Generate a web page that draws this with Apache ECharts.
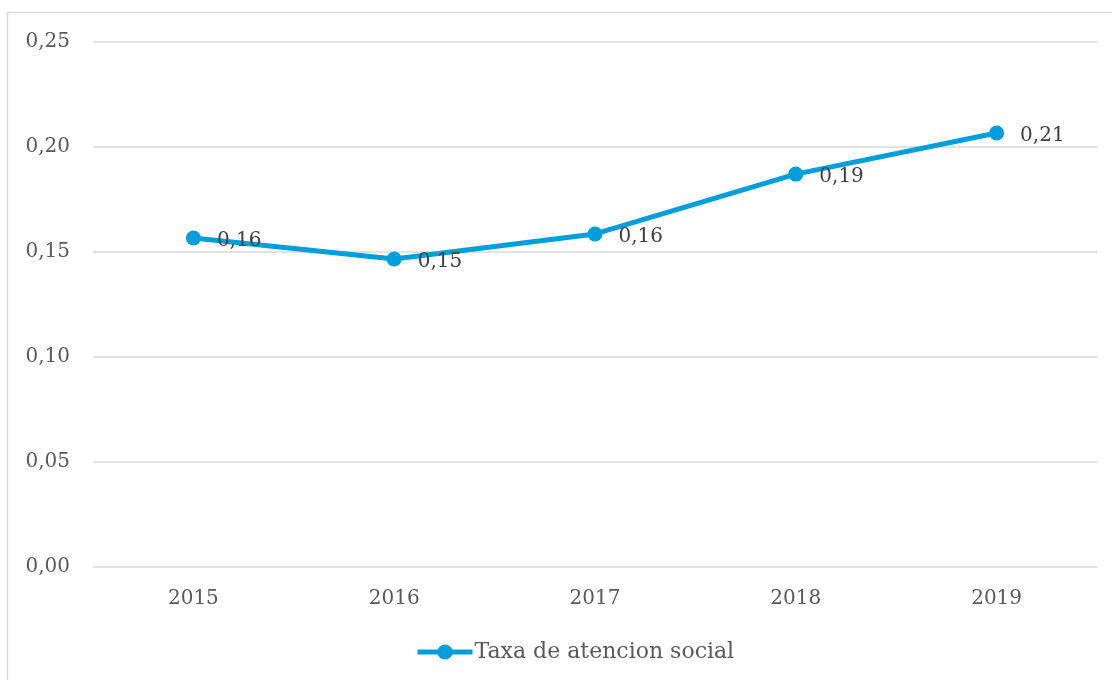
<!DOCTYPE html>
<html lang="es">
<head>
    <meta charset="UTF-8">
    <title>Taxa de atencion social</title>
    <script src="https://cdn.jsdelivr.net/npm/echarts@6/dist/echarts.min.js"></script>
    <style>
        html, body { margin: 0; padding: 0; background: #fff; }
        #chart { width: 1112px; height: 680px; }
    </style>
</head>
<body>
    <div id="chart"></div>
    <script>
        // datos
        var years = ['2015', '2016', '2017', '2018', '2019'];
        var taxa = [0.1567, 0.1467, 0.1586, 0.1871, 0.2067];
        var serieName = 'Taxa de atencion social';

        var fontFam = '"DejaVu Serif", "Liberation Serif", serif';
        var azul = '#009fdb';

        function coma(v) {
            return v.toFixed(2).replace('.', ',');
        }

        var myChart = echarts.init(document.getElementById('chart'));
        myChart.setOption({
            animation: false,
            graphic: [{
                type: 'rect',
                shape: { x: 7.5, y: 12.5, width: 1200, height: 800 },
                style: { fill: 'none', stroke: '#d9d9d9', lineWidth: 1.5 },
                silent: true
            }],
            grid: { left: 93, right: 15, top: 42, bottom: 113 },
            xAxis: {
                type: 'category',
                data: years,
                axisLine: { show: false },
                axisTick: { show: false },
                axisLabel: { color: '#595959', fontFamily: fontFam, fontSize: 20, margin: 22 }
            },
            yAxis: {
                type: 'value',
                min: 0,
                max: 0.25,
                interval: 0.05,
                axisLine: { show: false },
                axisTick: { show: false },
                splitLine: { lineStyle: { color: '#d9d9d9', width: 1.5 } },
                axisLabel: {
                    color: '#595959', fontFamily: fontFam, fontSize: 20, margin: 23,
                    formatter: function (v) { return coma(v); }
                }
            },
            legend: {
                bottom: 12,
                left: 410,
                itemWidth: 55,
                itemHeight: 19,
                itemStyle: { color: azul },
                lineStyle: { width: 5, color: azul },
                textStyle: { color: '#595959', fontFamily: fontFam, fontSize: 22, padding: [0, 0, 0, -3] },
                data: [serieName]
            },
            series: [{
                name: serieName,
                type: 'line',
                data: taxa,
                symbol: 'circle',
                symbolSize: 15,
                itemStyle: { color: azul },
                lineStyle: { color: azul, width: 5 },
                label: {
                    show: true,
                    position: 'right',
                    distance: 16,
                    offset: [0, 3],
                    color: '#404040',
                    fontFamily: fontFam,
                    fontSize: 20,
                    formatter: function (p) { return coma(p.value); }
                }
            }]
        });
    </script>
</body>
</html>
